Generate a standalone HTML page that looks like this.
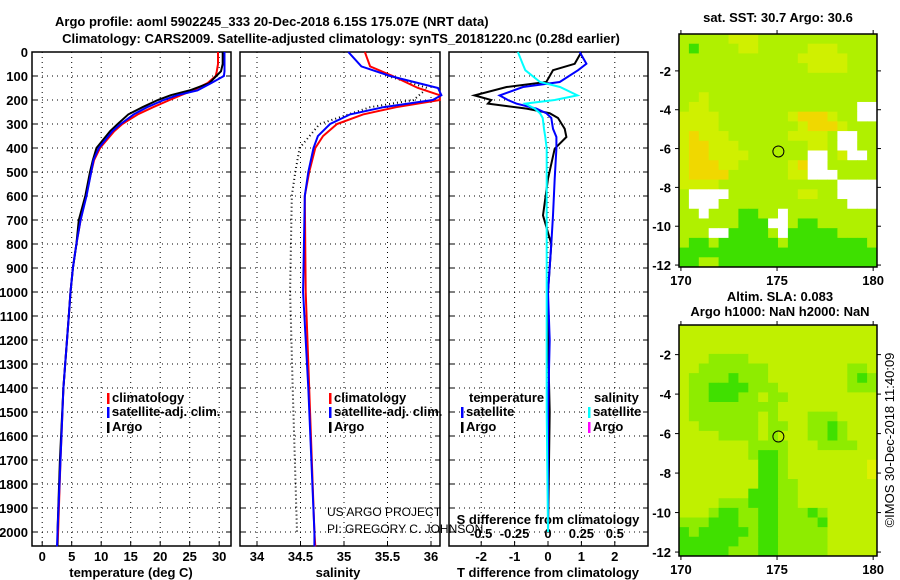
<!DOCTYPE html>
<html><head><meta charset="utf-8"><style>
html,body{margin:0;padding:0;background:#fff;}
svg{display:block;font-family:"Liberation Sans",sans-serif;}
.b{font-weight:bold;font-size:13px;fill:#000;}
</style></head><body>
<svg id="c" width="900" height="580" viewBox="0 0 900 580" xmlns="http://www.w3.org/2000/svg">
<text class="b" x="55" y="26" text-anchor="start" font-size="15">Argo profile: aoml 5902245_333 20-Dec-2018 6.15S 175.07E (NRT data)</text>
<text class="b" x="341" y="43" text-anchor="middle" font-size="15">Climatology: CARS2009. Satellite-adjusted climatology: synTS_20181220.nc (0.28d earlier)</text>
<g id="g"></g>
</svg>
<script>
// ---------- data ----------
const depthTicks=[0,100,200,300,400,500,600,700,800,900,1000,1100,1200,1300,1400,1500,1600,1700,1800,1900,2000];
const tempTicks=[0,5,10,15,20,25,30];
const salTicks=[34,34.5,35,35.5,36];
const tdiffTicks=[-2,-1,0,1,2];
const sdiffTicks=[-0.5,-0.25,0,0.25,0.5];
const sdiffTickLabels=["-0.5","-0.25","0","0.25","0.5"];

const tDepth=[0,50,80,100,130,160,180,200,230,260,300,330,400,450,500,600,700,800,900,1000,1100,1400,1700,2000,2060];
const tClim =[29.8,29.8,29.6,29.4,28.0,25.5,23.5,21.6,18.8,16.2,13.6,12.2,9.8,8.8,8.3,7.4,6.5,5.8,5.2,4.8,4.5,3.6,3.1,2.7,2.6];
const tSat  =[30.9,30.9,30.9,30.8,28.6,26.3,22.9,20.6,17.8,15.5,13.3,11.9,9.6,8.7,8.3,7.5,6.5,5.8,5.2,4.8,4.5,3.6,3.1,2.6,2.5];
const tArgo =[30.6,30.6,30.3,29.5,28.3,25.0,21.8,19.6,17.0,14.6,12.8,11.5,9.2,8.6,8.1,7.3,6.2,5.8,5.2,4.8,4.5,3.6,3.0,2.6,2.6];

const sDepth=[0,20,60,100,150,180,200,230,260,300,350,400,500,600,1000,1400,2000,2060];
const sClim =[35.24,35.26,35.30,35.56,35.85,36.1,36.1,35.6,35.22,34.92,34.76,34.67,34.60,34.55,34.56,34.60,34.66,34.67];
const sSat  =[35.05,35.10,35.20,35.53,36.08,36.12,36.02,35.45,35.07,34.84,34.70,34.65,34.59,34.55,34.53,34.59,34.66,34.66];
const sDotDepth=[100,150,200,230,300,400,500,600,1000,1400,2000];
const sDot  =[35.5,35.96,35.8,35.3,34.72,34.49,34.44,34.40,34.38,34.41,34.46];

const dDepth=[0,49,76,125,146,181,200,215,236,255,275,320,354,403,528,681,800,1000,1200,1500,2000];
const dTArgo=[1.0,0.8,0.15,-0.05,-1.24,-2.2,-1.7,-1.8,-0.64,0.05,0.3,0.5,0.55,0.2,0.0,-0.15,0.1,0.0,0.0,0.05,0.0];
const dTSat =[0.95,1.15,0.9,0.35,-0.75,-1.45,-1.2,-0.95,-0.35,-0.05,0.1,0.15,0.25,0.25,0.2,0.15,0.1,0.0,0.05,0.0,0.0];
const dSSat =[-0.225,-0.19,-0.17,-0.06,0.09,0.22,0.05,-0.17,-0.1,-0.06,-0.04,-0.03,-0.02,-0.01,-0.01,-0.01,-0.01,-0.01,-0.01,-0.01,0.0];

const latTicks=[-2,-4,-6,-8,-10,-12];
const lonTicks=[170,175,180];
const floatLon=175.07, floatLat=-6.15;
const sstRows=["gggggyyygggggggggggg","gGggggyygggggyyygggg","ggggggggggggyyyyyggg","gggggggggggggyyyyggg","gggggggggggggggggggg","gggggggggggggggggggg","ggyggggggggggggggggg","gyygggggggggggggggww","yyyygggggggyoooyggww","yyyyggggggggyoooyggg","yoyyyggggggyyyygwwgg","yooyyygggggggyygwwgg","yooyyyyggggggwwgywwg","yoooyygggggyowwggggg","yooooggggggyywwwgggg","yyyyggggggggggggwwww","gwwwwgggggggyyggwwww","gwwwgggggggggggggwww","ggwgggGGggwggggggggg","ggggggGGGwwgGGgggggg","gggwwGGGGgwGGGGGgggg","gGGgGGGGGGgGGGGGGGGg","GGGGGGGGGGGGGGGGGGGG","GGggGGGGGGGGGGGGGGGG"];
const slaRows=["yyyyyyyyyyyyyyyyyyyy","yyyyyyyyyyyyyyyyyyyy","yyyyyyyyyyyyyyyyyyyy","yyyggggyyyyyyyyyyyyy","yygggggggyyyyyyyyggy","yggggGgggyyyyyyyygGg","yggGGGGgggyyyyyyyggg","yggGGGggyggyyyyyyyyy","ygggggggggyyyyyyyyyy","ygggggggygyyygggyyyy","yyggggggyggyyggGgyyy","yyyyggggygyyyggGgyyy","yyyyyyyggggyyyggggyy","yyyyyyygGGgyyyyyyyyy","yyyyyyyyGGgyyyyyyyyo","yyyyyyyyGGgyyyyyyyyo","yyyyyyyyGGggyyyyyyyy","yyyyyyyGGGggyyyyyyyy","yyyygggGGGggyyyyyyyy","yyygGGggGGgggGgyyyyy","gggGGGggGGggggGyyyyy","GgGGGGGgGGgggggyyyyy","GGGGGGggGGgggggyyyyy","GGGGGgggGGgggggyyyyy"];

// ---------- drawing ----------
const NS="http://www.w3.org/2000/svg";
const G=document.getElementById('g');
function mk(t,a,p){const e=document.createElementNS(NS,t);for(const k in a)e.setAttribute(k,a[k]);(p||G).appendChild(e);return e;}
const Y0=52,Ybot=546;
const yD=d=>Y0+d*0.24;
const panels=[{x0:32,x1:231},{x0:240,x1:440},{x0:449,x1:648}];
const xT=v=>42.2+v*5.9;
const xS=v=>257+(v-34)*87;
const xDT=v=>548+v*33.4;
const xDS=v=>548+v*133.6;

function line(xs,ds,fx,color,w,dash,name){
  let d='';for(let i=0;i<xs.length;i++){d+=(i?'L':'M')+fx(xs[i]).toFixed(1)+','+yD(ds[i]).toFixed(1);}
  const p=mk('path',{d:d,fill:'none',stroke:color,'stroke-width':w});
  if(dash)p.setAttribute('stroke-dasharray',dash);
  
  
}
function txt(x,y,s,anchor,extra,name){const t=mk('text',Object.assign({x:x,y:y,'class':'b','text-anchor':anchor||'start'},extra||{}));t.textContent=s;return t;}

panels.forEach((p,i)=>{
  const f=mk('rect',{x:p.x0,y:Y0,width:p.x1-p.x0,height:Ybot-Y0,fill:'none',stroke:'#000','stroke-width':1.5});
  
  
  depthTicks.forEach(d=>{
    if(d>0){const gl=mk('line',{x1:p.x0,x2:p.x1,y1:yD(d),y2:yD(d),stroke:'#000','stroke-width':1,'stroke-dasharray':'1,4'});}
    mk('line',{x1:p.x0,x2:p.x0+5,y1:yD(d),y2:yD(d),stroke:'#000'});
    mk('line',{x1:p.x1-5,x2:p.x1,y1:yD(d),y2:yD(d),stroke:'#000'});
  });
});
depthTicks.forEach(d=>txt(28,yD(d)+5,String(d),'end',{},'depth-tick-label'));

function xgrid(ticks,fx,p,labels,ly,name){
  ticks.forEach((v,i)=>{
    const x=fx(v);
    const gl=mk('line',{x1:x,x2:x,y1:Y0,y2:Ybot,stroke:'#000','stroke-width':1,'stroke-dasharray':'1,4'});
    
    mk('line',{x1:x,x2:x,y1:Ybot-5,y2:Ybot,stroke:'#000'});
    txt(x,ly,labels?labels[i]:String(v),'middle',{},name+'-tick-label');
  });
}
xgrid(tempTicks,xT,panels[0],null,561,'temperature');
xgrid(salTicks,xS,panels[1],null,561,'salinity');
xgrid(tdiffTicks,xDT,panels[2],null,561,'tdiff');
sdiffTicks.forEach((v,i)=>txt(xDS(v),538,sdiffTickLabels[i],'middle',{},'sdiff-tick-label'));

txt(131,577,'temperature (deg C)','middle',{},'temperature-axis-title');
txt(338,577,'salinity','middle',{},'salinity-axis-title');
txt(548,577,'T difference from climatology','middle',{},'tdiff-axis-title');
txt(548,524,'S difference from climatology','middle',{},'sdiff-axis-title');

line(tClim,tDepth,xT,'#f00',2,null,'temperature-climatology-line');
line(tArgo,tDepth,xT,'#000',2,null,'temperature-argo-line');
line(tSat,tDepth,xT,'#00f',2,null,'temperature-satellite-line');
line(sDot,sDotDepth,xS,'#000',2,'1,3','salinity-dotted-line');
line(sClim,sDepth,xS,'#f00',2,null,'salinity-climatology-line');
line(sSat,sDepth,xS,'#00f',2,null,'salinity-satellite-line');
line(dTArgo,dDepth,xDT,'#000',2,null,'tdiff-argo-line');
line(dTSat,dDepth,xDT,'#00f',2,null,'tdiff-satellite-line');
line(dSSat,dDepth,xDS,'#0ff',2,null,'sdiff-satellite-line');

function leg(x,y,color,label,name){
  const r=mk('rect',{x:x,y:y-9,width:2.5,height:11,fill:color});
  
  txt(x+5,y,label,'start',{},name);
}
leg(107,402,'#f00','climatology','legend-temp-climatology');
leg(107,416,'#00f','satellite-adj. clim.','legend-temp-satellite');
leg(107,431,'#000','Argo','legend-temp-argo');
leg(329,402,'#f00','climatology','legend-sal-climatology');
leg(329,416,'#00f','satellite-adj. clim.','legend-sal-satellite');
leg(329,431,'#000','Argo','legend-sal-argo');
txt(469,402,'temperature','start',{},'legend-temperature-header');
txt(594,402,'salinity','start',{},'legend-salinity-header');
leg(461,416,'#00f','satellite','legend-tdiff-satellite');
leg(461,431,'#000','Argo','legend-tdiff-argo');
leg(588,416,'#0ff','satellite','legend-sdiff-satellite');
leg(588,431,'#f0f','Argo','legend-sdiff-argo');
const a1=txt(327,516,'US ARGO PROJECT','start',{'font-weight':'normal','font-size':'12'},'project-credit');a1.removeAttribute('class');
const a2=txt(327,533,'PI: GREGORY C. JOHNSON','start',{'font-weight':'normal','font-size':'12'},'pi-credit');a2.removeAttribute('class');

// ---------- maps ----------
const palTop={g:'#b0f000',y:'#d0f000',o:'#f0d800',G:'#3ee000',w:'#ffffff'};
const palBot={g:'#8eec00',y:'#c0f000',o:'#e0f000',G:'#40e000'};
function map(mx0,mx1,my0,my1,rows,pal,name,latTop,latBot){
  const lonMin=169.9,lonMax=180.2;
  const fx=v=>mx0+(v-lonMin)/(lonMax-lonMin)*(mx1-mx0);
  const fy=v=>my0+(latTop-v)/(latTop-latBot)*(my1-my0);
  const nr=rows.length,nc=rows[0].length,cw=(mx1-mx0)/nc,ch=(my1-my0)/nr;
  rows.forEach((r,i)=>{for(let j=0;j<nc;j++){const c=mk('rect',{x:(mx0+j*cw).toFixed(2),y:(my0+i*ch).toFixed(2),width:(cw+0.4).toFixed(2),height:(ch+0.4).toFixed(2),fill:pal[r[j]]});}});
  const f=mk('rect',{x:mx0,y:my0,width:mx1-mx0,height:my1-my0,fill:'none',stroke:'#000','stroke-width':1.5});
  
  latTicks.forEach(v=>{const y=fy(v);mk('line',{x1:mx0-4,x2:mx0,y1:y,y2:y,stroke:'#000'});mk('line',{x1:mx1,x2:mx1+4,y1:y,y2:y,stroke:'#000'});txt(671,y+5,String(v),'end',{'font-size':'13'},name+'-lat-label');});
  lonTicks.forEach(v=>{const x=fx(v);mk('line',{x1:x,x2:x,y1:my1,y2:my1+4,stroke:'#000'});mk('line',{x1:x,x2:x,y1:my0-4,y2:my0,stroke:'#000'});txt(x,my1+18,String(v),'middle',{'font-size':'14'},name+'-lon-label');});
  const c=mk('circle',{cx:fx(floatLon),cy:fy(floatLat),r:5.5,fill:'none',stroke:'#000','stroke-width':1});
  
}
map(679,877,34,267,sstRows,palTop,'sst-map',-0.1,-12.1);
map(679,877,325,556,slaRows,palBot,'sla-map',-0.5,-12.2);
txt(778,22,'sat. SST: 30.7 Argo: 30.6','middle',{},'sst-map-title');
txt(780,301,'Altim. SLA: 0.083','middle',{},'sla-map-title');
txt(780,316,'Argo h1000: NaN h2000: NaN','middle',{},'sla-map-subtitle');
const cr=txt(0,0,'©IMOS 30-Dec-2018 11:40:09','middle',{'font-weight':'normal','font-size':'13',transform:'translate(894,440) rotate(-90)'},'imos-timestamp');cr.removeAttribute('class');
</script>
</body></html>
